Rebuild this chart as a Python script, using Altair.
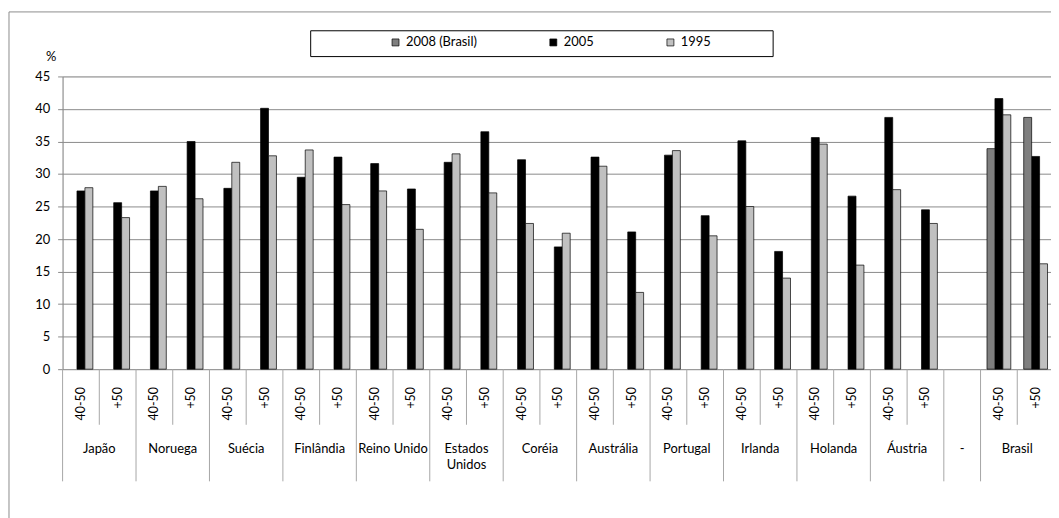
import altair as alt
import pandas as pd

countries = ["Japão", "Noruega", "Suécia", "Finlândia", "Reino Unido", "Estados\nUnidos",
             "Coréia", "Austrália", "Portugal", "Irlanda", "Holanda", "Áustria", "Brasil"]
subs = ["40-50", "+50"]
series = ["2008 (Brasil)", "2005", "1995"]
colors = ["#7f7f7f", "#000000", "#c0c0c0"]

v2005_4050 = [27.4, 27.4, 27.8, 29.5, 31.6, 31.8, 32.2, 32.6, 32.9, 35.1, 35.6, 38.7, 41.6]
v2005_50 = [25.6, 35.0, 40.1, 32.6, 27.7, 36.5, 18.8, 21.1, 23.6, 18.1, 26.6, 24.5, 32.7]
v1995_4050 = [27.9, 28.1, 31.8, 33.7, 27.4, 33.1, 22.4, 31.2, 33.6, 25.0, 34.6, 27.6, 39.1]
v1995_50 = [23.3, 26.2, 32.8, 25.3, 21.5, 27.1, 20.9, 11.8, 20.5, 14.0, 16.0, 22.4, 16.2]
v2008_brasil = [33.9, 38.7]
yticks = [0, 5, 10, 15, 20, 25, 30, 35, 40, 45]

FONT = "Lato"
GRID = "#8a8a8a"
LINE = "#a6a6a6"

# slots (x categories), with the empty "-" slot between Áustria and Brasil
groups = countries[:-1] + ["-", "Brasil"]
slots, slot_sub, slot_group = [], [], []
for g in groups:
    if g == "-":
        slots.append("-|"); slot_sub.append(""); slot_group.append(g)
    else:
        for s in subs:
            slots.append(f"{g}|{s}"); slot_sub.append(s); slot_group.append(g)

rows = []
for i, c in enumerate(countries):
    rows.append({"slot": f"{c}|40-50", "series": "2005", "value": v2005_4050[i]})
    rows.append({"slot": f"{c}|+50", "series": "2005", "value": v2005_50[i]})
    rows.append({"slot": f"{c}|40-50", "series": "1995", "value": v1995_4050[i]})
    rows.append({"slot": f"{c}|+50", "series": "1995", "value": v1995_50[i]})
rows.append({"slot": "Brasil|40-50", "series": "2008 (Brasil)", "value": v2008_brasil[0]})
rows.append({"slot": "Brasil|+50", "series": "2008 (Brasil)", "value": v2008_brasil[1]})
bars_df = pd.DataFrame(rows)

slot_df = pd.DataFrame({"slot": slots, "sub": slot_sub, "group": slot_group})
sub_lab_df = slot_df[slot_df["sub"] != ""]
short_df = slot_df[slot_df["sub"] == "+50"]
long_df = slot_df[(slot_df["sub"] == "40-50") | (slot_df["group"] == "-")]
grp2_df = slot_df[slot_df["sub"] == "+50"]
dash_df = slot_df[slot_df["group"] == "-"].assign(label="-")

xscale = alt.Scale(domain=slots, range=[0, 999], paddingInner=0, paddingOuter=0)

border = alt.Chart(pd.DataFrame({"a": [0]})).mark_rect(
    filled=False, stroke="#8c8c8c", strokeWidth=1
).encode(x=alt.value(-54), x2=alt.value(1200), y=alt.value(-65), y2=alt.value(700))

legend_box = alt.Chart(pd.DataFrame({"a": [0]})).mark_rect(
    filled=False, stroke="#000000", strokeWidth=1
).encode(x=alt.value(250), x2=alt.value(716), y=alt.value(-46), y2=alt.value(-20))

bars = alt.Chart(bars_df).mark_bar(stroke="#000000", strokeWidth=0.7).encode(
    x=alt.X("slot:N", scale=xscale, sort=slots,
            axis=alt.Axis(labels=False, ticks=False, title=None, grid=False,
                          domainColor=GRID, domainWidth=1)),
    xOffset=alt.XOffset("series:N", scale=alt.Scale(domain=series, paddingOuter=0.8125, paddingInner=0)),
    y=alt.Y("value:Q", scale=alt.Scale(domain=[0, 45], nice=False),
            axis=alt.Axis(values=yticks, title="%", titleAngle=0, titleX=-12, titleY=-20,
                          titleAlign="center", titleBaseline="middle", titleFont=FONT,
                          titleFontWeight="normal", titleFontSize=13, titleColor="#000",
                          labelFont=FONT, labelFontSize=13, labelColor="#000", labelPadding=8,
                          tickSize=5, tickColor=GRID, domainColor=GRID, gridColor=GRID,
                          gridOpacity=1, gridWidth=1)),
    color=alt.Color("series:N", scale=alt.Scale(domain=series, range=colors),
                    legend=alt.Legend(title=None, orient="none", legendX=329, legendY=-41,
                                      direction="horizontal", symbolType="square", symbolSize=49,
                                      symbolStrokeColor="#000", symbolStrokeWidth=0.7,
                                      labelFont=FONT, labelFontSize=13, labelColor="#000",
                                      labelOffset=4, columnPadding=70, padding=0)),
)

sub_labels = alt.Chart(sub_lab_df).mark_text(
    angle=270, align="right", baseline="middle", font=FONT, fontSize=12.5, color="#000"
).encode(x=alt.X("slot:N", scale=xscale, sort=slots, axis=None), y=alt.value(313), text="sub:N")

short_rules = alt.Chart(short_df).mark_rule(color=LINE, strokeWidth=1).encode(
    x=alt.X("slot:N", scale=xscale, sort=slots, axis=None, bandPosition=0),
    y=alt.value(295), y2=alt.value(351))

long_rules = alt.Chart(long_df).mark_rule(color=LINE, strokeWidth=1).encode(
    x=alt.X("slot:N", scale=xscale, sort=slots, axis=None, bandPosition=0),
    y=alt.value(295), y2=alt.value(408))

grp_labels = alt.Chart(grp2_df).mark_text(
    align="center", baseline="top", font=FONT, fontSize=13, color="#000", lineBreak="\n", lineHeight=17
).encode(x=alt.X("slot:N", scale=xscale, sort=slots, axis=None, bandPosition=0),
         y=alt.value(369), text="group:N")

dash_label = alt.Chart(dash_df).mark_text(
    align="center", baseline="top", font=FONT, fontSize=13, color="#000"
).encode(x=alt.X("slot:N", scale=xscale, sort=slots, axis=None),
         y=alt.value(369), text="label:N")

chart = alt.layer(border, legend_box, bars, sub_labels, short_rules, long_rules, grp_labels, dash_label).properties(
    width=996, height=295,
    autosize=alt.AutoSizeParams(type="none"),
    padding={"left": 55, "top": 67, "right": 0, "bottom": 148},
).configure_view(stroke=None).configure(font=FONT)

chart.save("out.html", embed_options={"renderer": "svg", "actions": False})
